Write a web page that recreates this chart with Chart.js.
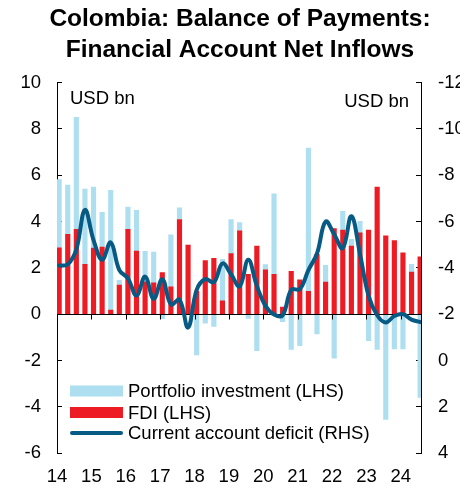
<!DOCTYPE html>
<html><head><meta charset="utf-8">
<script src="https://cdn.jsdelivr.net/npm/chart.js@4.4.1/dist/chart.umd.min.js"></script>
<style>html,body{margin:0;padding:0;background:#fff}#wrap{width:460px;height:491px}</style>
</head><body><div id="wrap"><canvas id="c" width="460" height="491"></canvas></div>
<script>
// Quarterly, 2014Q1 .. 2024Q3
const categories = [
 '14Q1','14Q2','14Q3','14Q4','15Q1','15Q2','15Q3','15Q4','16Q1','16Q2','16Q3','16Q4',
 '17Q1','17Q2','17Q3','17Q4','18Q1','18Q2','18Q3','18Q4','19Q1','19Q2','19Q3','19Q4',
 '20Q1','20Q2','20Q3','20Q4','21Q1','21Q2','21Q3','21Q4','22Q1','22Q2','22Q3','22Q4',
 '23Q1','23Q2','23Q3','23Q4','24Q1','24Q2','24Q3'];
const yearLabels = ['14','15','16','17','18','19','20','21','22','23','24'];
// USD bn (LHS)
const fdi = [2.87,3.45,3.66,2.15,2.85,2.90,0.18,1.25,3.66,2.72,1.40,1.35,
 1.79,1.18,4.09,2.98,1.00,2.31,2.41,0.57,2.62,3.60,1.72,2.94,
 1.91,1.72,0.30,1.85,1.48,0.99,2.58,1.39,3.70,3.63,2.94,3.51,
 3.63,5.49,3.38,3.18,2.65,1.82,2.48];
const portfolio = [2.94,2.13,4.84,3.25,2.64,1.50,5.17,0.21,0.96,1.77,1.31,1.33,
 -0.20,2.25,0.50,0.00,-1.76,-0.39,-0.53,1.80,1.47,0.36,-0.19,-1.58,
 0.23,3.48,-0.33,-1.53,-1.36,6.18,-0.86,0.72,-1.90,0.81,0.29,0.50,
 -1.15,-1.53,-4.55,-1.50,-1.50,0.33,-3.60];
// USD bn (RHS, inverted)
const currentAccount = [-4.10,-4.15,-4.80,-6.50,-5.20,-4.35,-5.10,-3.90,-3.55,-2.80,-3.62,-2.66,
 -3.51,-2.42,-2.62,-1.42,-3.05,-3.51,-3.38,-4.19,-3.72,-3.20,-4.35,-3.22,
 -2.36,-1.98,-1.95,-3.05,-3.08,-3.90,-4.62,-6.00,-5.45,-4.85,-6.23,-4.60,
 -2.79,-1.95,-1.64,-1.92,-2.00,-1.76,-1.66];

const FONT = '"Liberation Sans", Arial, Helvetica, sans-serif';
Chart.defaults.font.family = FONT;
Chart.defaults.font.size = 18.5;
Chart.defaults.color = '#000';

const C_PI = '#aedff0', C_FDI = '#ed1c24', C_CA = '#075a84';

const decor = {
  id: 'decor',
  beforeDatasetDraw(chart, args) {
    if (args.meta.type !== 'line') return;
    const {ctx, chartArea: a, scales: {x, y}} = chart;
    const y0 = Math.round(y.getPixelForValue(0)) + 0.5;
    ctx.save();
    ctx.strokeStyle = '#000'; ctx.lineWidth = 1;
    ctx.beginPath(); ctx.moveTo(a.left, y0); ctx.lineTo(a.right, y0);
    x.ticks.forEach(t => {
      const px = Math.round(x.getPixelForValue(t.value)) + 0.5;
      ctx.moveTo(px, y0); ctx.lineTo(px, y0 + 5);
    });
    ctx.stroke();
    ctx.restore();
  },
  afterDraw(chart) {
    const {ctx, chartArea: a} = chart;
    ctx.save();
    ctx.font = '18.5px ' + FONT;
    ctx.fillStyle = '#000';
    ctx.textBaseline = 'middle';
    ctx.textAlign = 'left';
    ctx.fillText('USD bn', a.left + 13, 99);
    ctx.textAlign = 'right';
    ctx.fillText('USD bn', a.right - 12, 102);
    // legend
    const order = [1, 0, 2];
    const rows = [391, 412.5, 433];
    ctx.textAlign = 'left';
    order.forEach((di, k) => {
      const ds = chart.data.datasets[di];
      const yy = rows[k];
      if (ds.type === 'line') {
        ctx.strokeStyle = ds.borderColor; ctx.lineWidth = 4; ctx.lineCap = 'round';
        ctx.beginPath(); ctx.moveTo(a.left + 15, yy); ctx.lineTo(a.left + 64, yy); ctx.stroke();
      } else {
        ctx.fillStyle = ds.backgroundColor;
        ctx.fillRect(a.left + 13, yy - 5.5, 53, 11);
      }
      ctx.fillStyle = '#000';
      ctx.fillText(ds.label, a.left + 71, yy + 1);
    });
    ctx.restore();
  }
};

new Chart(document.getElementById('c'), {
  type: 'bar',
  data: {
    datasets: [
      { type: 'bar', label: 'FDI (LHS)', data: fdi.map((v, i) => ({x: i + 0.25, y: v})),
        backgroundColor: C_FDI, barThickness: 4.5, stack: 's', yAxisID: 'y', order: 2 },
      { type: 'bar', label: 'Portfolio investment (LHS)', data: portfolio.map((v, i) => ({x: i + 0.25, y: v})),
        backgroundColor: C_PI, barThickness: 4.5, stack: 's', yAxisID: 'y', order: 2 },
      { type: 'line', label: 'Current account deficit (RHS)', data: currentAccount.map((v, i) => ({x: i + 0.25, y: v})),
        borderColor: C_CA, backgroundColor: C_CA, borderWidth: 4, pointRadius: 0, tension: 0.4,
        borderCapStyle: 'round', borderJoinStyle: 'round', fill: false, yAxisID: 'y2', order: 1 }
    ]
  },
  options: {
    responsive: false, animation: false, events: [],
    layout: { padding: { left: 20, right: 0, top: 0, bottom: 0 } },
    plugins: {
      legend: { display: false }, tooltip: { enabled: false },
      title: { display: true, text: ['Colombia: Balance of Payments:', 'Financial Account Net Inflows'],
        color: '#000', font: { size: 24.5, weight: 'bold', lineHeight: 1.265 }, padding: { top: 3.5, bottom: 17.2 } }
    },
    scales: {
      x: { type: 'linear', min: 0, max: 42.35, offset: false, stacked: true, position: 'bottom',
        grid: { display: false, drawTicks: false }, border: { display: false },
        ticks: { padding: 13, autoSkip: false, maxRotation: 0, callback: (v, i) => yearLabels[i] },
        afterBuildTicks: s => { s.ticks = yearLabels.map((_, k) => ({ value: k * 4 })); },
        afterFit: s => { s.height = 38; } },
      y: { position: 'left', min: -6, max: 10, stacked: true,
        ticks: { stepSize: 2, padding: 21 },
        grid: { drawOnChartArea: false, drawTicks: true, tickLength: -5, color: '#000', lineWidth: 1 },
        border: { display: true, color: '#000', width: 1 },
        afterFit: s => { s.width = 37; } },
      y2: { position: 'right', min: -12, max: 4, reverse: true,
        ticks: { stepSize: 2, padding: 22 },
        grid: { drawOnChartArea: false, drawTicks: true, tickLength: -5, color: '#000', lineWidth: 1 },
        border: { display: true, color: '#000', width: 1 },
        afterFit: s => { s.width = 39; } }
    }
  },
  plugins: [decor]
});
</script></body></html>
